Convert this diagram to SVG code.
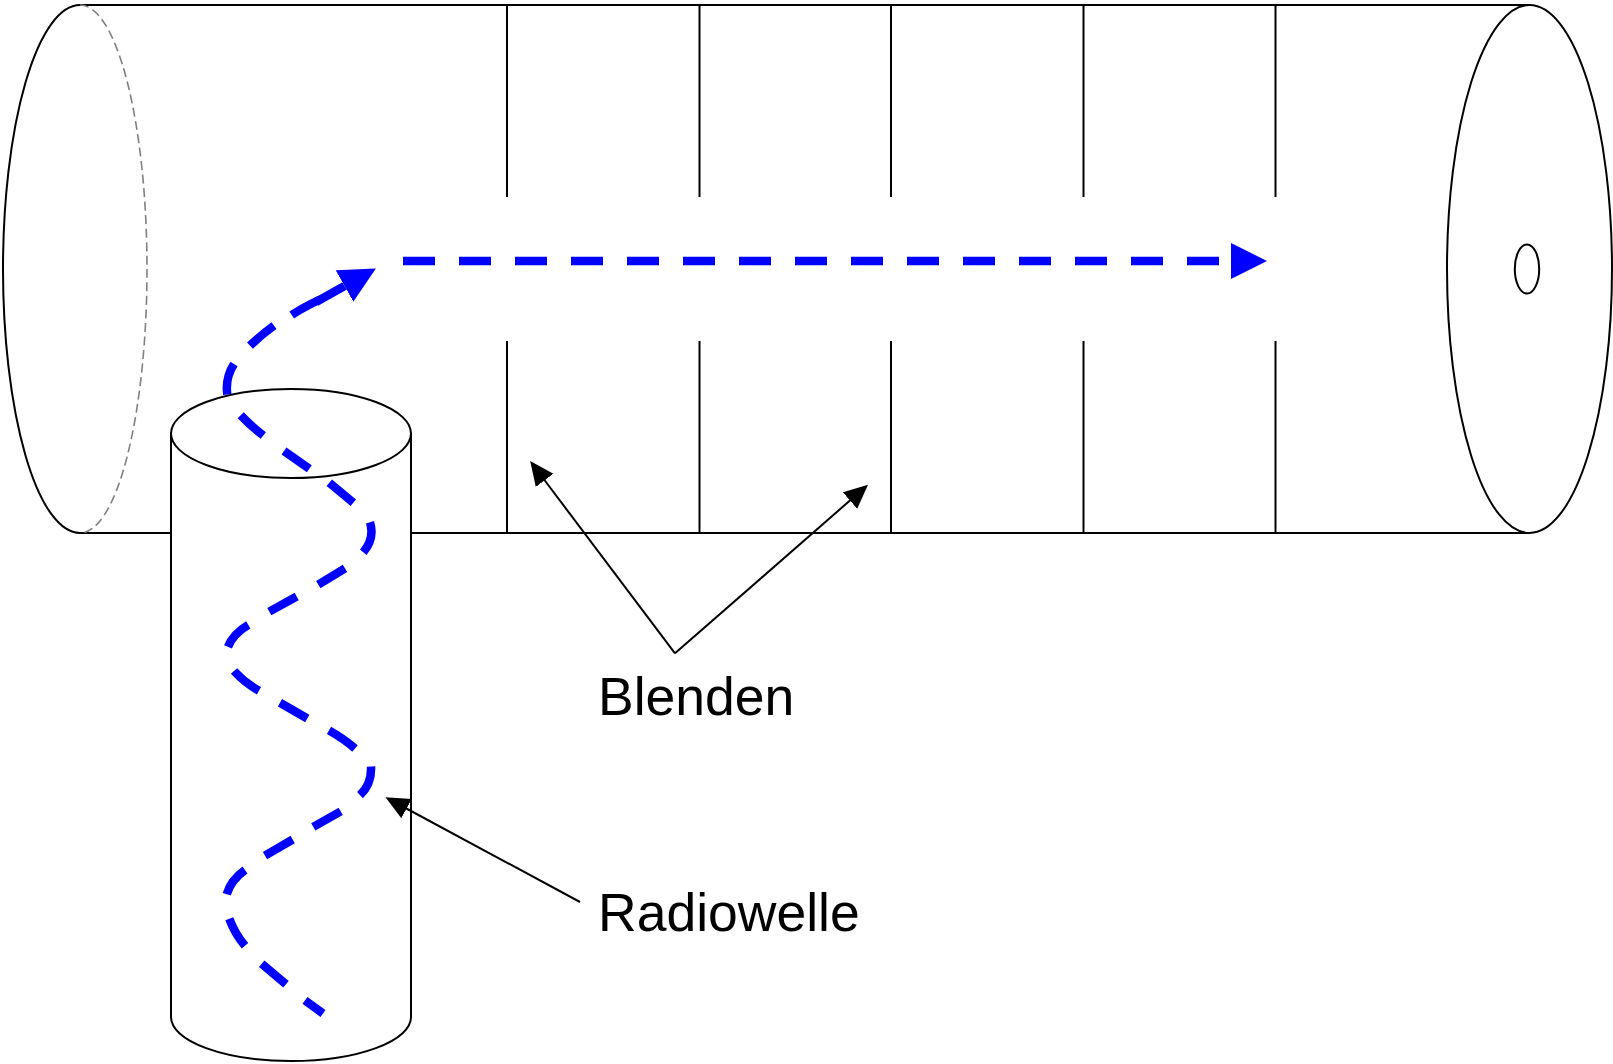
<svg xmlns="http://www.w3.org/2000/svg" width="1613" height="1064" viewBox="0 0 1613 1064">
<style>
.ln{fill:none;stroke:#000;stroke-width:2}
.fl{fill:#fff;stroke:#000;stroke-width:2}
.ghost{fill:none;stroke:#808080;stroke-width:1.6;stroke-dasharray:9 4.5}
.wave{fill:none;stroke:#00f;stroke-width:8.5}
.thin{fill:none;stroke:#000;stroke-width:2;marker-end:url(#thinHead)}
.label{font-family:"Liberation Sans",Arial,sans-serif;font-size:53.5px;fill:#000}
</style>
<defs>
<marker id="thinHead" markerUnits="userSpaceOnUse" markerWidth="24" markerHeight="23" refX="16" refY="11.5" orient="auto"><path d="M0 0.5L24 11.5L0 22.5Z" fill="#000"/></marker>
<marker id="blueHead" markerUnits="userSpaceOnUse" markerWidth="37" markerHeight="37" refX="0" refY="18" orient="auto"><path d="M0 0L36 18L0 36Z" fill="#00f"/></marker>
</defs>
<rect width="1613" height="1064" fill="#fff"/>
<g id="tube">
<path class="ln" d="M80 5H1529M80 533H1529"/>
<path class="ln" d="M80 5A77 264 0 0 0 80 533"/>
<path class="ghost" d="M80 5A67 264 0 0 1 80 533"/>
<ellipse class="fl" cx="1529.5" cy="269" rx="82.5" ry="264"/>
<ellipse class="ln" cx="1527" cy="269" rx="12.2" ry="24.5"/>
</g>
<g id="apertures">
<path class="ln" d="M507 5V197M507 341V533"/>
<path class="ln" d="M699.5 5V197M699.5 341V533"/>
<path class="ln" d="M891 5V197M891 341V533"/>
<path class="ln" d="M1083.5 5V197M1083.5 341V533"/>
<path class="ln" d="M1275.5 5V197M1275.5 341V533"/>
</g>
<g id="beam">
<path class="wave" stroke-dasharray="32 24" d="M403 261H1231" marker-end="url(#blueHead)"/>
</g>
<g id="waveguide">
<path class="fl" d="M171 433.5V1017A120 44 0 0 0 411 1017V433.5Z"/>
<ellipse class="fl" cx="291" cy="433.5" rx="120" ry="44.5"/>
</g>
<g id="connectors">
<path class="wave" d="M323 1013.5L305 1000.4M286 984.2L261.7 963.7M245 945.7Q235 934 229.3 918.7M226.7 894.2Q231 880 245 870M265 855.7L292.7 839.5M313.3 826.9L340.7 811.4M360 795.2Q372 784 371 766.4M355 748.4Q344 739 329 730.4M307.3 718.5L280 702.7M259 690.8Q245 683 234 671M228 646.9Q233 634 248.3 624.9M269.3 611.6L296.7 596.5M318.3 584.6L345 568.4M363.3 552.2Q375 538 370 522.3M353.3 502.7Q343 494 329.3 482.7M309.3 468.7L284 450.9M263.3 435.5Q251 426 240.7 415.2M227.3 394.5Q225 378 234 364M250 345.6Q261 335 274 325.6M291.7 315Q304 307 320 299.5"/>
<path class="wave" d="M316 302L344.5 286" marker-end="url(#blueHead)"/>
<path class="thin" d="M675 653.3L535 467.5"/>
<path class="thin" d="M675 653.3L862 490"/>
<path class="thin" d="M580 902L392.5 801"/>
</g>
<g id="label-blenden"><text class="label" x="598" y="714.5">Blenden</text></g>
<g id="label-radiowelle"><text class="label" x="598" y="930.5">Radiowelle</text></g>
</svg>
